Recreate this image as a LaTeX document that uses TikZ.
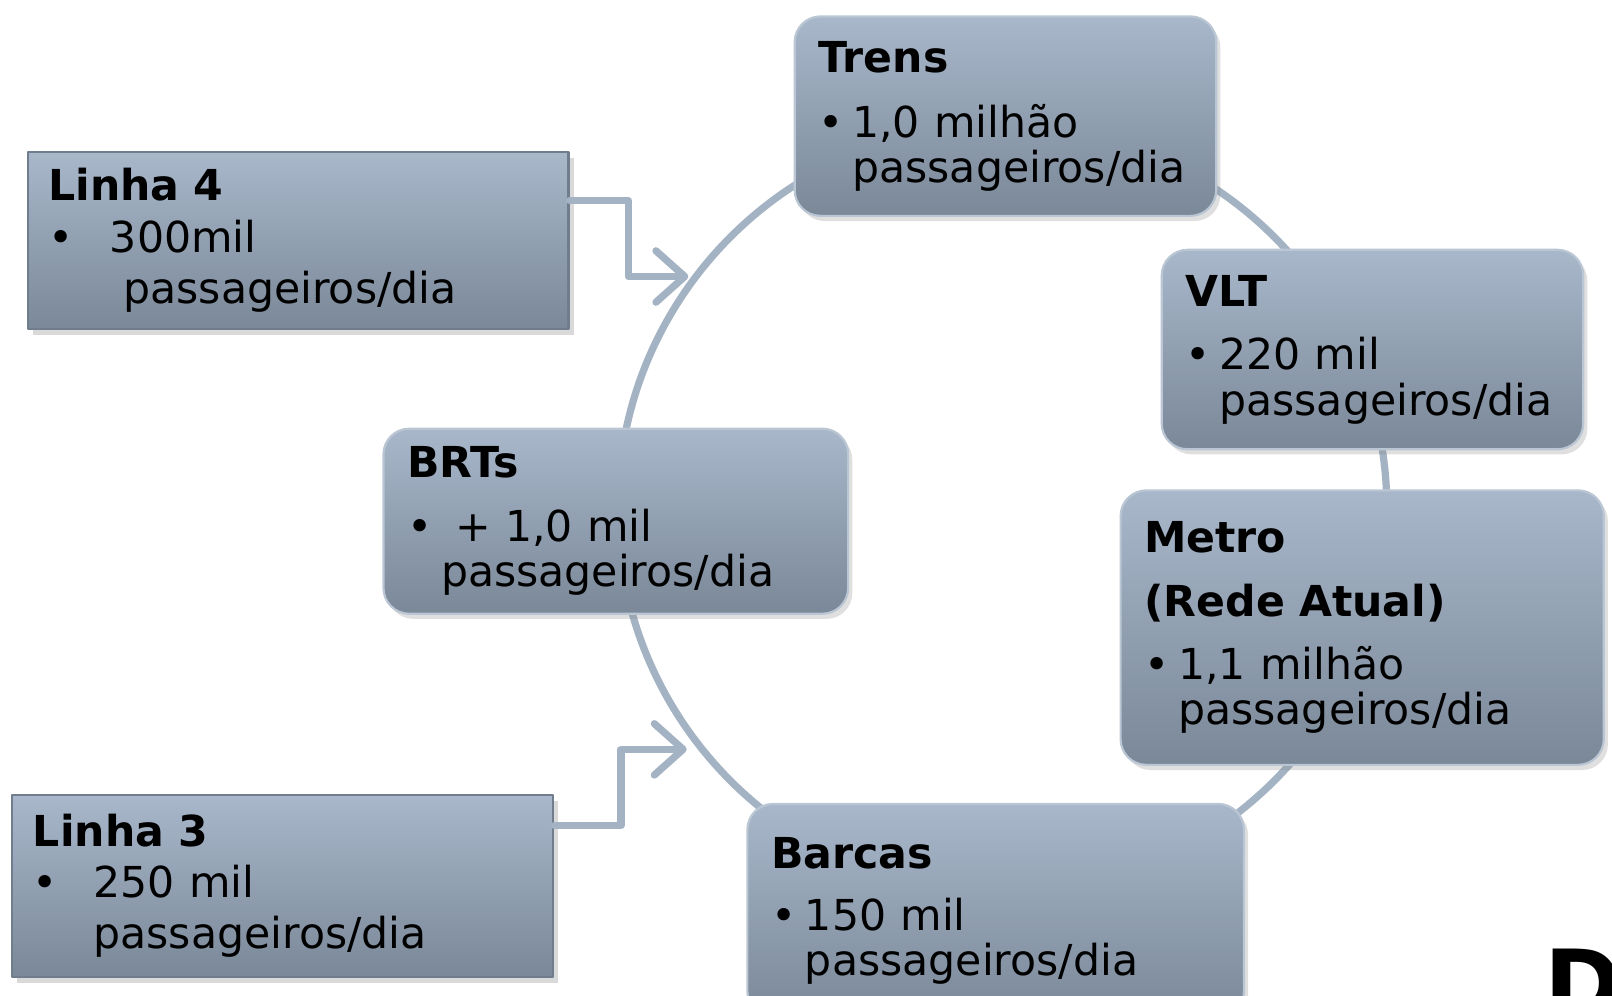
\documentclass[tikz,border=0pt]{standalone}
\usepackage{fontspec}
\setmainfont{DejaVu Sans}
\usetikzlibrary{arrows.meta,shadows}

\definecolor{ringblue}{RGB}{163,179,196}
\definecolor{boxtop}{RGB}{168,183,202}
\definecolor{boxbot}{RGB}{122,136,152}
\definecolor{boxedge}{RGB}{186,198,212}
\definecolor{bevel}{RGB}{112,125,141}

\newcommand{\pbul}{\makebox[0.33cm][l]{\textbullet}}
\newcommand{\pind}{\hspace*{0.33cm}}

\begin{document}
\begin{tikzpicture}[line join = round, line cap = round,
    font=\fontsize{11.8pt}{12.5pt}\selectfont,
    cyclebox/.style={rounded corners=0.25cm, shade, top color=boxtop, bottom color=boxbot,
      draw=boxedge, line width=0.6pt, align=left, inner xsep=0.23cm, inner ysep=0pt,
      drop shadow={shadow xshift=0.4mm, shadow yshift=-0.5mm, opacity=0.25}},
    linhabox/.style={shade, top color=boxtop, bottom color=boxbot,
      draw=bevel, line width=0.6pt, align=left, inner xsep=0.2cm, inner ysep=0pt,
      drop shadow={shadow xshift=0.5mm, shadow yshift=-0.6mm, opacity=0.3}},
    ring/.style={ringblue, line width=2pt},
    feed/.style={ringblue, line width=2pt, -{Straight Barb[length=2.8mm,width=5mm,round]}}]
  \useasboundingbox (0,0) rectangle (15.68,9.68);
  \clip (0,0) rectangle (15.68,9.68);
  % ring
  \coordinate (ctr) at (9.75,4.73);
  \coordinate (in4) at ([shift={(143.5:3.80)}]ctr);
  \coordinate (in3) at ([shift={(217.3:3.86)}]ctr);
  \draw[ring] (ctr) circle [radius=3.74];

  % cycle
  \node[cyclebox, text width=3.64cm, minimum height=1.94cm] (trens) at (9.78,8.55)
    {\textbf{Trens}\\[0.19cm]\pbul 1,0 milhão\\\pind passageiros/dia};
  \node[cyclebox, text width=3.64cm, minimum height=1.94cm] (vlt) at (13.35,6.28)
    {\textbf{VLT}\\[0.18cm]\pbul 220 mil\\\pind passageiros/dia};
  \node[cyclebox, text width=4.24cm, minimum height=2.67cm] (metro) at (13.25,3.575)
    {\textbf{Metro}\\[0.18cm]\textbf{(Rede Atual)}\\[0.18cm]\pbul 1,1 milhão\\\pind passageiros/dia};
  \node[cyclebox, text width=4.37cm, minimum height=2.08cm] (barcas) at (9.685,0.82)
    {\textbf{Barcas}\\[0.16cm]\pbul 150 mil\\\pind passageiros/dia};
  \node[cyclebox, text width=4.06cm, minimum height=1.80cm] (brts) at (5.99,4.61)
    {\textbf{BRTs}\\[0.18cm]\pbul\ + 1,0 mil\\\pind passageiros/dia};

  % lines 4 and 3
  \node[linhabox, text width=4.86cm, minimum height=1.72cm] (linha4) at (2.90,7.34)
    {\textbf{Linha 4}\\[0.06cm]\makebox[0.60cm][l]{\textbullet}300mil\\[0.06cm]\hspace*{0.73cm}passageiros/dia};
  \node[linhabox, text width=4.86cm, minimum height=1.77cm] (linha3) at (2.75,1.065)
    {\textbf{Linha 3}\\[0.06cm]\makebox[0.59cm][l]{\textbullet}250 mil\\[0.06cm]\hspace*{0.59cm}passageiros/dia};

  % feeders
  \draw[feed] ([yshift=3.9mm]linha4.east) -- ++(0.57,0) |- (in4);
  \draw[feed] ([yshift=5.85mm]linha3.east) -- ++(0.65,0) |- (in3);

  \node[font=\bfseries\fontsize{26pt}{26pt}\selectfont, anchor=base west, inner sep=0pt] (dcut) at (15.02,-0.22) {D};
\end{tikzpicture}
\end{document}
